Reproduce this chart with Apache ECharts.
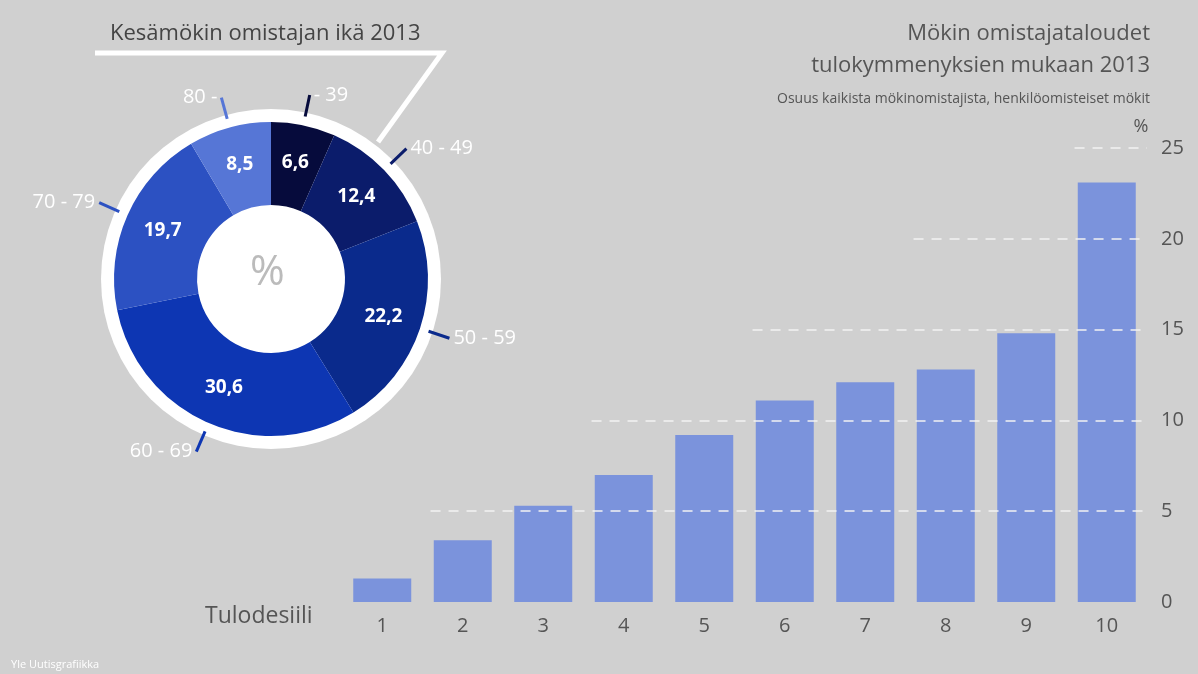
<!DOCTYPE html><html><head><meta charset="utf-8"><script src="https://cdn.jsdelivr.net/npm/echarts@6/dist/echarts.min.js"></script>
<style>html,body{margin:0;background:#d0d0d0}#c{width:1198px;height:674px}</style></head><body><div id="c"></div><script>
const deciles=['1','2','3','4','5','6','7','8','9','10'];
const shares=[1.3,3.4,5.3,7.0,9.2,11.1,12.1,12.8,14.8,23.1];
const ageGroups=['- 39','40 - 49','50 - 59','60 - 69','70 - 79','80 -'];
const ageShares=[6.6,12.4,22.2,30.6,19.7,8.5];
const ageColors=['#060b3c','#0b1c6b','#0a2a8c','#0d36b3','#2c51c2','#5676d6'];
const gridLevels=[[5,2],[10,4],[15,6],[20,8],[25,10]];
const F='"Open Sans",sans-serif';
const pieData=ageGroups.map((n,i)=>({name:n,value:ageShares[i],itemStyle:{color:ageColors[i]}}));
const ch=echarts.init(document.getElementById('c'));
ch.setOption({backgroundColor:'#d0d0d0',animation:false,
title:[{text:'Kesämökin omistajan ikä 2013',left:105,top:18,textStyle:{fontFamily:F,fontSize:22,fontWeight:'normal',color:'#444'}},
{text:'Yle Uutisgrafiikka',left:6,top:654,textStyle:{fontFamily:F,fontSize:11,fontWeight:'normal',color:'#fff'}}],
grid:{left:342,right:51,top:148,bottom:72},
xAxis:[{type:'category',data:deciles,axisLine:{show:false},axisTick:{show:false},axisLabel:{fontFamily:F,fontSize:20,color:'#555',margin:14}},
{type:'value',min:0,max:10,show:false}],
yAxis:{type:'value',position:'right',min:0,max:25,interval:5,axisLine:{show:false,onZero:false},axisTick:{show:false},splitLine:{show:false},axisLabel:{fontFamily:F,fontSize:20,color:'#555',margin:14},name:'%',nameGap:12,nameTextStyle:{fontFamily:F,fontSize:18,color:'#555',padding:[0,0,0,-12]}},
graphic:[
{type:'text',x:1150,y:18,style:{text:'Mökin omistajataloudet\ntulokymmenyksien mukaan 2013',fontFamily:F,fontSize:22,lineHeight:32,fill:'#555',align:'right'}},
{type:'text',x:1150,y:92,style:{text:'Osuus kaikista mökinomistajista, henkilöomisteiset mökit',fontFamily:F,fontSize:14,fill:'#555',align:'right'}},
{type:'text',left:205,top:605,style:{text:'Tulodesiili',fontFamily:F,fontSize:23,fill:'#555'}},
{type:'polyline',z:0,shape:{points:[[95,53],[442,53],[378,142]]},style:{stroke:'#fff',lineWidth:5,fill:null}},
{type:'circle',z:0,shape:{cx:271,cy:279,r:170},style:{fill:'#fff'}},
{type:'text',z:10,left:250,top:252,style:{text:'%',fontFamily:F,fontSize:42,fill:'#bbb'}}],
series:[
{type:'line',z:1,xAxisIndex:1,data:[],symbol:'none',markLine:{silent:true,symbol:'none',label:{show:false},lineStyle:{color:'#f2f2f2',type:[10,8],width:1.5},
 data:gridLevels.map(([v,k])=>[{coord:[k-0.9,v]},{coord:[10,v]}])}},
{type:'bar',z:2,data:shares,barWidth:58,itemStyle:{color:'#7b93dc'}},
{type:'pie',z:3,center:[271,279],radius:[74,157],startAngle:90,clockwise:true,data:pieData,
 label:{position:'inside',color:'#fff',fontFamily:F,fontSize:19,fontWeight:'bold',formatter:p=>p.value.toFixed(1).replace('.',',')},labelLine:{show:false}},
{type:'pie',z:2,center:[271,279],radius:[74,166],startAngle:90,silent:true,
 data:pieData.map(d=>({...d,itemStyle:{color:'rgba(0,0,0,0)'},labelLine:{lineStyle:{color:d.itemStyle.color}}})),
 label:{position:'outside',color:'#fff',fontFamily:F,fontSize:20,formatter:'{b}',distanceToLabelLine:4},labelLine:{show:true,length:22,length2:0,lineStyle:{width:3}},
 emphasis:{disabled:true}}
]});
</script></body></html>
